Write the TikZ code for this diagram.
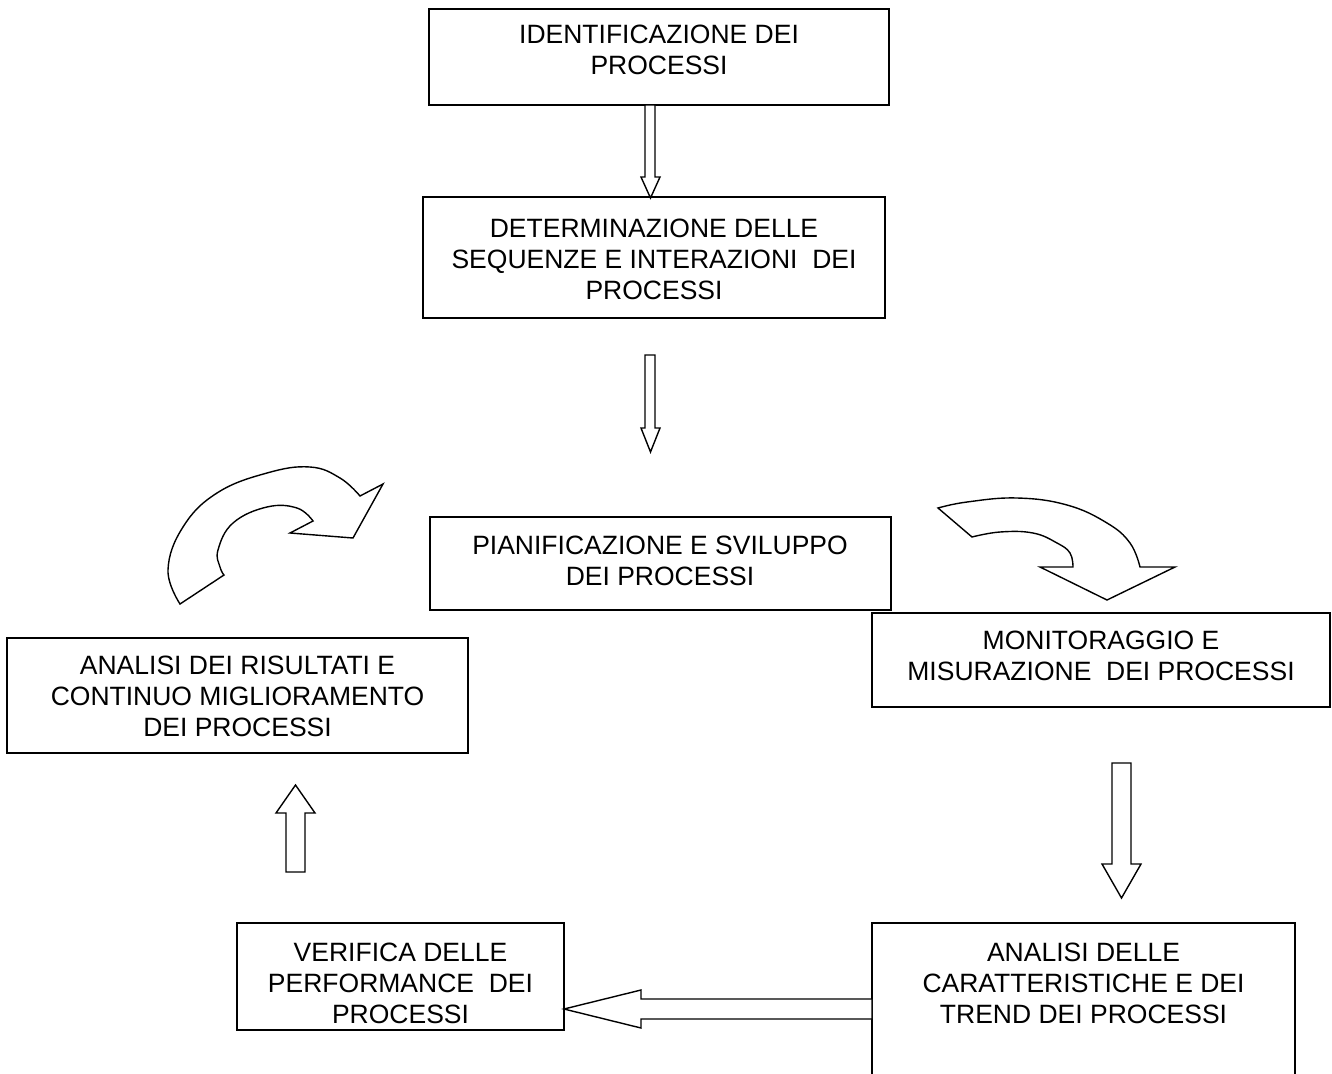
\documentclass[tikz,border=0pt]{standalone}
\usepackage{fontspec}
\setmainfont{Liberation Sans}
\begin{document}
\begin{tikzpicture}[x=1pt,y=-1pt,
  box/.style={draw, line width=1.4pt, rectangle, inner sep=0pt},
  txt/.style={align=center, font=\fontsize{26.5}{31}\selectfont, inner sep=0pt},
  blk/.style={draw, line width=1.4pt, fill=white, line join=miter}]
\useasboundingbox (0,0) rectangle (1332,1073);
\begin{scope}
\clip (0,0) rectangle (1332,1073);
% boxes
\node[box, minimum width=460pt, minimum height=96pt] (b1) at (659,57) {};
\node[box, minimum width=462pt, minimum height=121pt] (b2) at (654,257.5) {};
\node[box, minimum width=461pt, minimum height=93pt] (b3) at (660.5,563.5) {};
\node[box, minimum width=458pt, minimum height=94pt] (b4) at (1101,660) {};
\node[box, minimum width=461pt, minimum height=115pt] (b5) at (237.5,695.5) {};
\node[box, minimum width=327pt, minimum height=107pt] (b6) at (400.5,976.5) {};
\node[box, minimum width=423pt, minimum height=200pt] (b7) at (1083.5,1023) {};
% texts
\node[txt] (t1) at (659,50) {IDENTIFICAZIONE DEI\\PROCESSI};
\node[txt] (t2) at (654,259) {DETERMINAZIONE DELLE\\SEQUENZE E INTERAZIONI\ \ DEI\\PROCESSI};
\node[txt] (t3) at (660,561) {PIANIFICAZIONE E SVILUPPO\\DEI PROCESSI};
\node[txt] (t4) at (1101,656) {MONITORAGGIO E\\MISURAZIONE\ \ DEI PROCESSI};
\node[txt] (t5) at (237.5,696) {ANALISI DEI RISULTATI E\\CONTINUO MIGLIORAMENTO\\DEI PROCESSI};
\node[txt] (t6) at (400.5,983) {VERIFICA DELLE\\PERFORMANCE\ \ DEI\\PROCESSI};
\node[txt] (t7) at (1083.5,983) {ANALISI DELLE\\CARATTERISTICHE E DEI\\TREND DEI PROCESSI};
% block arrows
\draw[blk] (645,105) -- (645,177) -- (641,177) -- (650.5,198) -- (660,177) -- (655,177) -- (655,105) -- cycle;
\draw[blk] (645,355) -- (645,428) -- (641,428) -- (650.5,452) -- (660,428) -- (655,428) -- (655,355) -- cycle;
\draw[blk] (1112,763) -- (1112,864) -- (1102,864) -- (1121.5,898) -- (1141,864) -- (1131,864) -- (1131,763) -- cycle;
\draw[blk] (286,872) -- (286,813) -- (276,813) -- (295.5,785) -- (315,813) -- (305,813) -- (305,872) -- cycle;
\draw[blk] (872,999) -- (641,999) -- (641,990) -- (564,1009) -- (641,1028) -- (641,1019) -- (872,1019) -- cycle;
% curved arrows
\draw[blk] plot[smooth, tension=0.7] coordinates {(180,604) (168,570) (183,527) (217,493) (267,473) (310,467) (340,478) (360,496)}
  -- (383,484) -- (353,538) -- (290,533) -- (313,521)
  -- plot[smooth, tension=0.7] coordinates {(313,521) (297,508) (267,507) (233,523) (218,550) (220,567) (224,575)} -- cycle;
\draw[blk] plot[smooth, tension=0.7] coordinates {(938,508) (967,502) (1017,498) (1067,505) (1107,523) (1130,543) (1140,567)}
  -- (1175,567) -- (1107,600) -- (1040,567) -- (1073,567)
  -- plot[smooth, tension=0.7] coordinates {(1073,567) (1070,553) (1057,543) (1033,533) (1000,532) (972,537)} -- cycle;
\end{scope}
\end{tikzpicture}
\end{document}
